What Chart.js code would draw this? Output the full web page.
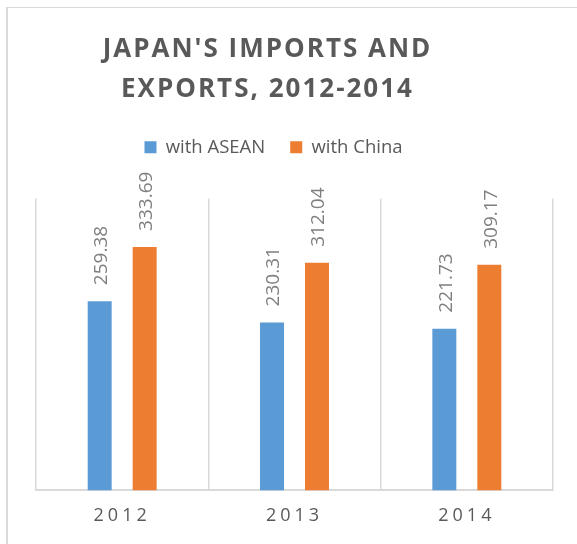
<!DOCTYPE html>
<html>
<head>
<meta charset="utf-8">
<script src="https://cdn.jsdelivr.net/npm/chart.js@4.4.1/dist/chart.umd.min.js"></script>
<style>
   body { margin: 0; background: #ffffff; }
   .frame {
      position: absolute; left: 6px; top: 7px; width: 600px; height: 600px;
      border-left: 2px solid #d9d9d9; border-top: 1px solid #d9d9d9;
   }
   .chart-box { position: absolute; left: 0; top: 0; width: 577px; height: 544px; }
</style>
</head>
<body>
<div class="frame"></div>
<div class="chart-box"><canvas id="trade-chart"></canvas></div>
<script>
/*=======================================
 data
========================================*/
var years = ['2012', '2013', '2014'];
var aseanValues = [259.38, 230.31, 221.73];
var chinaValues = [333.69, 312.04, 309.17];
var seriesNames = ['with ASEAN', 'with China'];
var titleLines = ["JAPAN'S IMPORTS AND", 'EXPORTS, 2012-2014'];

Chart.defaults.font.family = "'Open Sans', sans-serif";

/*=======================================
 helpers: value labels + letter spacing
========================================*/

// write the value above each bar, turned up on its side
var valueLabels = {
   id: 'valueLabels',
   afterDatasetsDraw(chart) {
      var ctx = chart.ctx;
      chart.data.datasets.forEach((ds, i) => {
         chart.getDatasetMeta(i).data.forEach((bar, j) => {
            ctx.save();
            ctx.translate(bar.x + 2, bar.y - 16);
            ctx.rotate(-Math.PI / 2);
            ctx.font = "19px 'Open Sans'";
            ctx.fillStyle = '#7f7f7f';
            ctx.textAlign = 'left';
            ctx.textBaseline = 'middle';
            ctx.fillText(ds.data[j].toFixed(2), 0, 0);
            ctx.restore();
         });
      });
   }
};

// spread out the letters of the title and the year labels,
// and sit title + legend a bit left of the middle like the original
var spacing = {
   id: 'spacing',
   beforeInit(chart) {
      // legend needs more room under it than chart.js gives
      var legend = chart.legend;
      var fit = legend.fit;
      legend.fit = function () {
         fit.call(legend);
         legend.height += 32;
      };
   },
   beforeDraw(chart) {
      if (chart._spaced) return;
      chart._spaced = true;
      var ctx = chart.ctx;
      var xScale = chart.scales.x;
      var drawLabels = xScale.drawLabels;
      xScale.drawLabels = function (area) {
         ctx.save();
         ctx.letterSpacing = '4px';
         drawLabels.call(xScale, area);
         ctx.restore();
      };
      var title = chart.titleBlock;
      var drawTitle = title.draw;
      title.draw = function (area) {
         ctx.save();
         ctx.translate(-27, 0);
         ctx.letterSpacing = '2px';
         drawTitle.call(title, area);
         ctx.restore();
      };
      var legend = chart.legend;
      var drawLegend = legend.draw;
      legend.draw = function (area) {
         ctx.save();
         ctx.translate(-21, 0);
         drawLegend.call(legend, area);
         ctx.restore();
      };
   }
};

/*=======================================
 chart
========================================*/
var ctx = document.getElementById('trade-chart');

var tradeChart = new Chart(ctx, {
   type: 'bar',
   data: {
      labels: years,
      datasets: [
         {
            label: seriesNames[0],
            data: aseanValues,
            backgroundColor: '#5b9bd5',
            borderWidth: 0
         },
         {
            label: seriesNames[1],
            data: chinaValues,
            backgroundColor: '#ed7d31',
            borderWidth: 0
         }
      ]
   },
   options: {
      responsive: true,
      maintainAspectRatio: false,
      animation: false,
      categoryPercentage: 0.522,
      barPercentage: 0.533,
      layout: {
         padding: { left: 36, right: 24, top: 0, bottom: 2 }
      },
      scales: {
         x: {
            grid: {
               color: '#d9d9d9',
               lineWidth: 1.5,
               drawTicks: false
            },
            border: { color: '#d9d9d9', width: 2 },
            ticks: {
               color: '#595959',
               padding: 15,
               font: { size: 18 }
            }
         },
         y: {
            display: false,
            min: 0,
            max: 400
         }
      },
      plugins: {
         title: {
            display: true,
            text: titleLines,
            color: '#595959',
            font: { size: 26, weight: 'bold', lineHeight: 1.54 },
            padding: { top: 30, bottom: 3 }
         },
         legend: {
            labels: {
               boxWidth: 12,
               boxHeight: 12,
               padding: 25,
               color: '#595959',
               font: { size: 18.5 }
            }
         },
         tooltip: { enabled: false }
      }
   },
   plugins: [valueLabels, spacing]
});
</script>
</body>
</html>
